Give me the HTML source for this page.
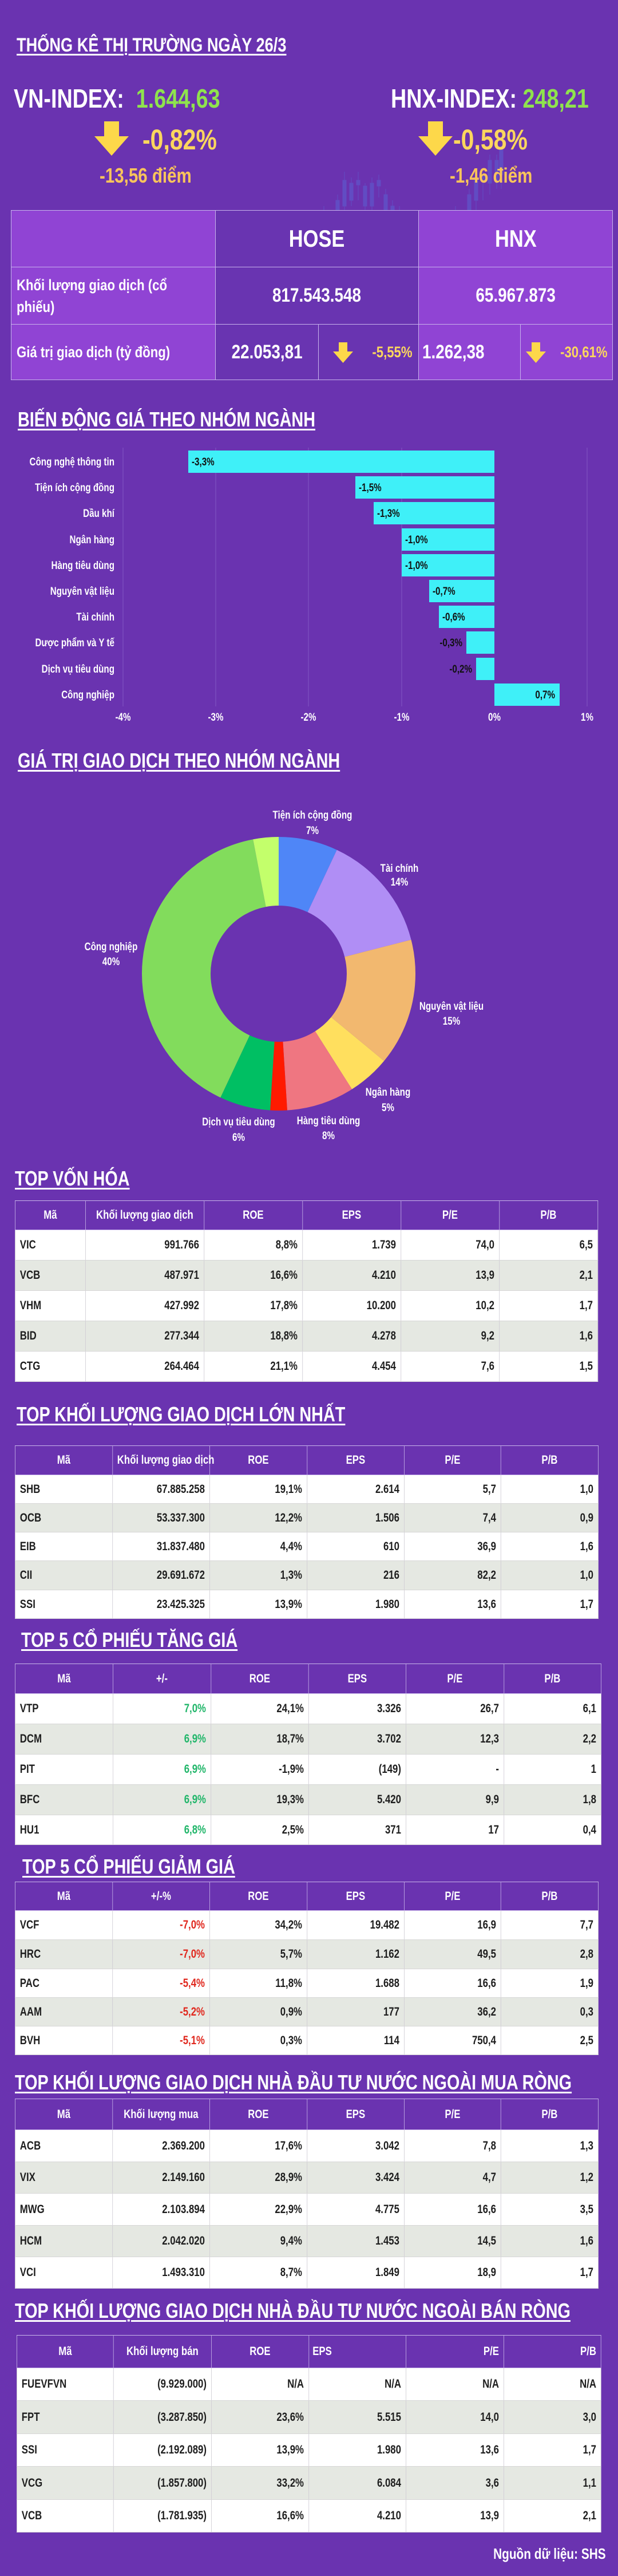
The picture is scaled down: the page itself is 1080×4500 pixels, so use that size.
<!DOCTYPE html>
<html><head><meta charset="utf-8">
<style>
*{margin:0;padding:0;box-sizing:border-box}
body{width:1080px;height:4500px;background:#6a33b0;position:relative;overflow:hidden;font-family:"Liberation Sans",sans-serif;font-weight:bold;color:#fff}
.a{position:absolute;white-space:nowrap;line-height:1}
.s{transform:scaleX(.82);transform-origin:left top}
.sr{transform:scaleX(.8);transform-origin:right top}
.t{position:absolute;white-space:nowrap;line-height:1;font-size:36px;text-decoration:underline;text-decoration-thickness:3px;text-underline-offset:4px;color:#fff;transform:scaleX(.8);transform-origin:left top}
.c{position:absolute;display:flex;align-items:center;justify-content:center;border:1px solid #c7b2ec}
.c span{display:inline-block;transform:scaleX(.82)}
.c.l span{transform-origin:left center}
.c.r span{transform-origin:right center}
table{position:absolute;border-collapse:collapse;table-layout:fixed;font-size:21px;color:#1e1e1e;transform:scaleX(.8);transform-origin:left top}
td,th{border:1px solid #d6d6d6;padding:0 10px;text-align:right;white-space:nowrap}
th{background:#6a33b0;color:#fff;text-align:center;font-weight:bold;border-color:#c9b6ea}
td:first-child{text-align:left}
tr.w td{background:#fff}
tr.g td{background:#e5e8e2}
.gr{color:#21b66a}.rd{color:#e0281e}
</style></head><body>

<svg class="a" style="left:0;top:0" width="1080" height="600">
<g fill="#5a66d6" opacity="0.5" stroke="#5a66d6" stroke-width="1">
<line x1="387" y1="470" x2="387" y2="560"/><rect x="384" y="505" width="6" height="30"/>
<line x1="398" y1="475" x2="398" y2="555"/><rect x="395" y="500" width="6" height="6"/>
<line x1="410" y1="480" x2="410" y2="560"/><rect x="407" y="495" width="6" height="45"/>
<line x1="422" y1="510" x2="422" y2="560"/><rect x="419" y="540" width="6" height="15"/>
<line x1="434" y1="500" x2="434" y2="555"/><rect x="431" y="520" width="6" height="25"/>
<line x1="446" y1="480" x2="446" y2="540"/><rect x="443" y="510" width="6" height="20"/>
<line x1="458" y1="460" x2="458" y2="540"/><rect x="455" y="480" width="6" height="40"/>
<line x1="470" y1="470" x2="470" y2="520"/><rect x="467" y="495" width="6" height="20"/>
<line x1="482" y1="440" x2="482" y2="520"/><rect x="479" y="455" width="6" height="45"/>
<line x1="494" y1="460" x2="494" y2="510"/><rect x="491" y="480" width="6" height="20"/>
<line x1="506" y1="410" x2="506" y2="500"/><rect x="503" y="420" width="6" height="40"/>
<line x1="518" y1="390" x2="518" y2="460"/><rect x="515" y="410" width="6" height="30"/>
<line x1="530" y1="400" x2="530" y2="450"/><rect x="527" y="425" width="6" height="15"/>
<line x1="542" y1="380" x2="542" y2="440"/><rect x="539" y="395" width="6" height="25"/>
<line x1="554" y1="385" x2="554" y2="430"/><rect x="551" y="400" width="6" height="12"/>
<line x1="566" y1="360" x2="566" y2="430"/><rect x="563" y="370" width="6" height="45"/>
<line x1="578" y1="390" x2="578" y2="420"/><rect x="575" y="395" width="6" height="18"/>
<line x1="590" y1="340" x2="590" y2="420"/><rect x="587" y="350" width="6" height="50"/>
<line x1="602" y1="300" x2="602" y2="390"/><rect x="599" y="315" width="6" height="45"/>
<line x1="614" y1="310" x2="614" y2="360"/><rect x="611" y="320" width="6" height="30"/>
<line x1="626" y1="300" x2="626" y2="350"/><rect x="623" y="315" width="6" height="8"/>
<line x1="638" y1="320" x2="638" y2="370"/><rect x="635" y="325" width="6" height="35"/>
<line x1="650" y1="310" x2="650" y2="370"/><rect x="647" y="320" width="6" height="40"/>
<line x1="662" y1="305" x2="662" y2="345"/><rect x="659" y="315" width="6" height="10"/>
<line x1="674" y1="330" x2="674" y2="400"/><rect x="671" y="340" width="6" height="45"/>
<line x1="686" y1="350" x2="686" y2="390"/><rect x="683" y="360" width="6" height="20"/>
<line x1="698" y1="360" x2="698" y2="430"/><rect x="695" y="370" width="6" height="45"/>
<line x1="710" y1="400" x2="710" y2="460"/><rect x="707" y="410" width="6" height="40"/>
<line x1="722" y1="420" x2="722" y2="470"/><rect x="719" y="430" width="6" height="20"/>
<line x1="734" y1="400" x2="734" y2="480"/><rect x="731" y="420" width="6" height="40"/>
<line x1="746" y1="380" x2="746" y2="460"/><rect x="743" y="410" width="6" height="30"/>
<line x1="760" y1="400" x2="760" y2="450"/><rect x="757" y="410" width="6" height="25"/>
<line x1="772" y1="400" x2="772" y2="450"/><rect x="769" y="405" width="6" height="10"/>
<line x1="784" y1="400" x2="784" y2="440"/><rect x="781" y="410" width="6" height="25"/>
<line x1="796" y1="360" x2="796" y2="430"/><rect x="793" y="380" width="6" height="40"/>
<line x1="808" y1="380" x2="808" y2="440"/><rect x="805" y="400" width="6" height="25"/>
<line x1="820" y1="330" x2="820" y2="410"/><rect x="817" y="340" width="6" height="55"/>
<line x1="832" y1="300" x2="832" y2="370"/><rect x="829" y="310" width="6" height="40"/>
<line x1="844" y1="300" x2="844" y2="350"/><rect x="841" y="305" width="6" height="10"/>
<line x1="856" y1="270" x2="856" y2="340"/><rect x="853" y="280" width="6" height="40"/>
<line x1="868" y1="270" x2="868" y2="330"/><rect x="865" y="280" width="6" height="35"/>
<line x1="876" y1="250" x2="876" y2="330"/><rect x="873" y="260" width="6" height="45"/>
</g></svg>

<div class="t" style="left:29px;top:62px;font-size:34px">THỐNG KÊ THỊ TRƯỜNG NGÀY 26/3</div>

<div class="a s" style="left:24px;top:149px;font-size:46px">VN-INDEX:&nbsp; <span style="color:#8fe34d">1.644,63</span></div>
<div class="a s" style="left:683px;top:149px;font-size:46px">HNX-INDEX: <span style="color:#8fe34d">248,21</span></div>

<svg class="a" style="left:165px;top:212px" width="60" height="60"><polygon points="17,0 43,0 43,26 60,26 30,60 0,26 17,26" fill="#fdd84a"/></svg>
<svg class="a" style="left:731px;top:212px" width="60" height="60"><polygon points="17,0 43,0 43,26 60,26 30,60 0,26 17,26" fill="#fdd84a"/></svg>
<div class="a s" style="left:249px;top:219px;font-size:50px;color:#fbd65e">-0,82%</div>
<div class="a s" style="left:792px;top:219px;font-size:50px;color:#fbd65e">-0,58%</div>
<div class="a s" style="left:174px;top:289px;font-size:36px;color:#f9c45b">-13,56 điểm</div>
<div class="a s" style="left:786px;top:289px;font-size:36px;color:#f9c45b">-1,46 điểm</div>

<div class="c" style="left:19px;top:367px;width:358px;height:100px;background:#9044d4"></div>
<div class="c" style="left:376px;top:367px;width:356px;height:100px;background:#6934b1;font-size:42px"><span>HOSE</span></div>
<div class="c" style="left:731px;top:367px;width:340px;height:100px;background:#9044d4;font-size:42px"><span>HNX</span></div>
<div class="c l" style="left:19px;top:466px;width:358px;height:101px;background:#9044d4;justify-content:flex-start;padding-left:9px;font-size:27px;line-height:38px"><span>Khối lượng giao dịch (cổ<br>phiếu)</span></div>
<div class="c" style="left:376px;top:466px;width:356px;height:101px;background:#6934b1;font-size:34px"><span>817.543.548</span></div>
<div class="c" style="left:731px;top:466px;width:340px;height:101px;background:#9044d4;font-size:34px"><span>65.967.873</span></div>
<div class="c l" style="left:19px;top:566px;width:358px;height:98px;background:#9044d4;justify-content:flex-start;padding-left:9px;font-size:27px"><span>Giá trị giao dịch (tỷ đồng)</span></div>
<div class="c" style="left:376px;top:566px;width:181px;height:98px;background:#6934b1;font-size:34px"><span>22.053,81</span></div>
<div class="c r" style="left:556px;top:566px;width:176px;height:98px;background:#6934b1;font-size:27px;color:#fbd65e;justify-content:flex-end;padding-right:10px"><span>-5,55%</span></div>
<div class="c l" style="left:731px;top:566px;width:179px;height:98px;background:#9044d4;font-size:34px;justify-content:flex-start;padding-left:6px"><span>1.262,38</span></div>
<div class="c r" style="left:909px;top:566px;width:162px;height:98px;background:#9044d4;font-size:27px;color:#fbd65e;justify-content:flex-end;padding-right:8px"><span>-30,61%</span></div>
<svg class="a" style="left:582px;top:598px" width="35" height="36"><polygon points="10,0 25,0 25,16 35,16 17.5,36 0,16 10,16" fill="#fdd84a"/></svg>
<svg class="a" style="left:919px;top:598px" width="35" height="36"><polygon points="10,0 25,0 25,16 35,16 17.5,36 0,16 10,16" fill="#fdd84a"/></svg>

<div class="t" style="left:31px;top:715px">BIẾN ĐỘNG GIÁ THEO NHÓM NGÀNH</div>
<svg class="a" style="left:0;top:0" width="1080" height="1300" font-family="Liberation Sans, sans-serif" font-weight="bold" font-size="18">
<g stroke="#8257c4" stroke-width="1">
<line x1="215" y1="782" x2="215" y2="1234"/><line x1="377" y1="782" x2="377" y2="1234"/><line x1="539" y1="782" x2="539" y2="1234"/><line x1="702" y1="782" x2="702" y2="1234"/><line x1="1026" y1="782" x2="1026" y2="1234"/>
</g>
<g fill="#3ff0f8">
<rect x="329" y="787" width="535" height="39"/>
<rect x="621" y="832" width="243" height="39"/>
<rect x="653" y="877" width="211" height="39"/>
<rect x="702" y="923" width="162" height="39"/>
<rect x="702" y="968" width="162" height="39"/>
<rect x="750" y="1013" width="114" height="39"/>
<rect x="767" y="1058" width="97" height="39"/>
<rect x="815" y="1103" width="49" height="39"/>
<rect x="832" y="1149" width="32" height="39"/>
<rect x="864" y="1194" width="114" height="39"/>
</g>
<g fill="#111" transform="scale(.8,1)" font-size="19">
<text x="418.75" y="813">-3,3%</text><text x="783.75" y="858">-1,5%</text><text x="823.75" y="903">-1,3%</text><text x="885" y="949">-1,0%</text><text x="885" y="994">-1,0%</text><text x="945" y="1039">-0,7%</text><text x="966.25" y="1084">-0,6%</text>
<text x="1010" y="1129" text-anchor="end">-0,3%</text><text x="1031.25" y="1175" text-anchor="end">-0,2%</text><text x="1212.5" y="1220" text-anchor="end">0,7%</text>
</g>
<g fill="#fff" text-anchor="end" transform="scale(.8,1)" font-size="19">
<text x="250" y="813">Công nghệ thông tin</text><text x="250" y="858">Tiện ích cộng đồng</text><text x="250" y="903">Dầu khí</text><text x="250" y="949">Ngân hàng</text><text x="250" y="994">Hàng tiêu dùng</text><text x="250" y="1039">Nguyên vật liệu</text><text x="250" y="1084">Tài chính</text><text x="250" y="1129">Dược phẩm và Y tế</text><text x="250" y="1175">Dịch vụ tiêu dùng</text><text x="250" y="1220">Công nghiệp</text>
</g>
<g fill="#fff" text-anchor="middle" transform="scale(.8,1)" font-size="19">
<text x="268.75" y="1259">-4%</text><text x="471.25" y="1259">-3%</text><text x="673.75" y="1259">-2%</text><text x="877.5" y="1259">-1%</text><text x="1080" y="1259">0%</text><text x="1282.5" y="1259">1%</text>
</g>
</svg>

<div class="t" style="left:31px;top:1311px">GIÁ TRỊ GIAO DỊCH THEO NHÓM NGÀNH</div>
<svg class="a" style="left:0;top:1300px" width="1080" height="720" font-family="Liberation Sans, sans-serif" font-weight="bold" font-size="19">
<g transform="translate(487,401) rotate(-90)" fill="none" stroke-width="120">
<circle r="179" pathLength="100" stroke="#4f86f7" stroke-dasharray="7 93" stroke-dashoffset="0"/>
<circle r="179" pathLength="100" stroke="#b08ef5" stroke-dasharray="14 86" stroke-dashoffset="-7"/>
<circle r="179" pathLength="100" stroke="#f2b86f" stroke-dasharray="15 85" stroke-dashoffset="-21"/>
<circle r="179" pathLength="100" stroke="#ffdf5e" stroke-dasharray="5 95" stroke-dashoffset="-36"/>
<circle r="179" pathLength="100" stroke="#ef7681" stroke-dasharray="8 92" stroke-dashoffset="-41"/>
<circle r="179" pathLength="100" stroke="#ff1a00" stroke-dasharray="2 98" stroke-dashoffset="-49"/>
<circle r="179" pathLength="100" stroke="#00bf63" stroke-dasharray="6 94" stroke-dashoffset="-51"/>
<circle r="179" pathLength="100" stroke="#82dc5c" stroke-dasharray="40 60" stroke-dashoffset="-57"/>
<circle r="179" pathLength="100" stroke="#c3ff6b" stroke-dasharray="3 97" stroke-dashoffset="-97"/>
</g>
<g fill="#fff" text-anchor="middle">
<text transform="translate(546,130) scale(.8,1)">Tiện ích cộng đồng</text><text transform="translate(546,157) scale(.8,1)">7%</text>
<text transform="translate(698,223) scale(.8,1)">Tài chính</text><text transform="translate(698,247) scale(.8,1)">14%</text>
<text transform="translate(789,464) scale(.8,1)">Nguyên vật liệu</text><text transform="translate(789,490) scale(.8,1)">15%</text>
<text transform="translate(678,614) scale(.8,1)">Ngân hàng</text><text transform="translate(678,641) scale(.8,1)">5%</text>
<text transform="translate(574,664) scale(.8,1)">Hàng tiêu dùng</text><text transform="translate(574,690) scale(.8,1)">8%</text>
<text transform="translate(417,666) scale(.8,1)">Dịch vụ tiêu dùng</text><text transform="translate(417,693) scale(.8,1)">6%</text>
<text transform="translate(194,360) scale(.8,1)">Công nghiệp</text><text transform="translate(194,386) scale(.8,1)">40%</text>
</g>
</svg>

<div class="t" style="left:26px;top:2041px">TOP VỐN HÓA</div>
<table style="left:26px;top:2097px;width:1272.5px">
<colgroup><col style="width:153.75px"><col style="width:258.75px"><col style="width:215px"><col style="width:215px"><col style="width:215px"><col style="width:215px"></colgroup>
<tr style="height:51px"><th>Mã</th><th>Khối lượng giao dịch</th><th>ROE</th><th>EPS</th><th>P/E</th><th>P/B</th></tr>
<tr class="w" style="height:53px"><td>VIC</td><td>991.766</td><td>8,8%</td><td>1.739</td><td>74,0</td><td>6,5</td></tr>
<tr class="g" style="height:53px"><td>VCB</td><td>487.971</td><td>16,6%</td><td>4.210</td><td>13,9</td><td>2,1</td></tr>
<tr class="w" style="height:53px"><td>VHM</td><td>427.992</td><td>17,8%</td><td>10.200</td><td>10,2</td><td>1,7</td></tr>
<tr class="g" style="height:53px"><td>BID</td><td>277.344</td><td>18,8%</td><td>4.278</td><td>9,2</td><td>1,6</td></tr>
<tr class="w" style="height:53px"><td>CTG</td><td>264.464</td><td>21,1%</td><td>4.454</td><td>7,6</td><td>1,5</td></tr>
</table>

<div class="t" style="left:29px;top:2453px">TOP KHỐI LƯỢNG GIAO DỊCH LỚN NHẤT</div>
<table style="left:26px;top:2525px;width:1273.75px">
<colgroup><col style="width:212.5px"><col style="width:212.5px"><col style="width:212.5px"><col style="width:212.5px"><col style="width:211.25px"><col style="width:212.5px"></colgroup>
<tr style="height:51px"><th>Mã</th><th>Khối lượng giao dịch</th><th>ROE</th><th>EPS</th><th>P/E</th><th>P/B</th></tr>
<tr class="w" style="height:50px"><td>SHB</td><td>67.885.258</td><td>19,1%</td><td>2.614</td><td>5,7</td><td>1,0</td></tr>
<tr class="g" style="height:50px"><td>OCB</td><td>53.337.300</td><td>12,2%</td><td>1.506</td><td>7,4</td><td>0,9</td></tr>
<tr class="w" style="height:50px"><td>EIB</td><td>31.837.480</td><td>4,4%</td><td>610</td><td>36,9</td><td>1,6</td></tr>
<tr class="g" style="height:51px"><td>CII</td><td>29.691.672</td><td>1,3%</td><td>216</td><td>82,2</td><td>1,0</td></tr>
<tr class="w" style="height:50px"><td>SSI</td><td>23.425.325</td><td>13,9%</td><td>1.980</td><td>13,6</td><td>1,7</td></tr>
</table>

<div class="t" style="left:37px;top:2847px">TOP 5 CỔ PHIẾU TĂNG GIÁ</div>
<table style="left:26px;top:2906px;width:1280px">
<colgroup><col style="width:213.75px"><col style="width:213.75px"><col style="width:213.75px"><col style="width:212.5px"><col style="width:213.75px"><col style="width:212.5px"></colgroup>
<tr style="height:52px"><th>Mã</th><th>+/-</th><th>ROE</th><th>EPS</th><th>P/E</th><th>P/B</th></tr>
<tr class="w" style="height:53px"><td>VTP</td><td class="gr">7,0%</td><td>24,1%</td><td>3.326</td><td>26,7</td><td>6,1</td></tr>
<tr class="g" style="height:53px"><td>DCM</td><td class="gr">6,9%</td><td>18,7%</td><td>3.702</td><td>12,3</td><td>2,2</td></tr>
<tr class="w" style="height:53px"><td>PIT</td><td class="gr">6,9%</td><td>-1,9%</td><td>(149)</td><td>-</td><td>1</td></tr>
<tr class="g" style="height:53px"><td>BFC</td><td class="gr">6,9%</td><td>19,3%</td><td>5.420</td><td>9,9</td><td>1,8</td></tr>
<tr class="w" style="height:52px"><td>HU1</td><td class="gr">6,8%</td><td>2,5%</td><td>371</td><td>17</td><td>0,4</td></tr>
</table>

<div class="t" style="left:39px;top:3243px">TOP 5 CỔ PHIẾU GIẢM GIÁ</div>
<table style="left:26px;top:3287px;width:1273.75px">
<colgroup><col style="width:212.5px"><col style="width:212.5px"><col style="width:212.5px"><col style="width:212.5px"><col style="width:211.25px"><col style="width:212.5px"></colgroup>
<tr style="height:50px"><th>Mã</th><th>+/-%</th><th>ROE</th><th>EPS</th><th>P/E</th><th>P/B</th></tr>
<tr class="w" style="height:51px"><td>VCF</td><td class="rd">-7,0%</td><td>34,2%</td><td>19.482</td><td>16,9</td><td>7,7</td></tr>
<tr class="g" style="height:51px"><td>HRC</td><td class="rd">-7,0%</td><td>5,7%</td><td>1.162</td><td>49,5</td><td>2,8</td></tr>
<tr class="w" style="height:50px"><td>PAC</td><td class="rd">-5,4%</td><td>11,8%</td><td>1.688</td><td>16,6</td><td>1,9</td></tr>
<tr class="g" style="height:50px"><td>AAM</td><td class="rd">-5,2%</td><td>0,9%</td><td>177</td><td>36,2</td><td>0,3</td></tr>
<tr class="w" style="height:50px"><td>BVH</td><td class="rd">-5,1%</td><td>0,3%</td><td>114</td><td>750,4</td><td>2,5</td></tr>
</table>

<div class="t" style="left:26px;top:3620px">TOP KHỐI LƯỢNG GIAO DỊCH NHÀ ĐẦU TƯ NƯỚC NGOÀI MUA RÒNG</div>
<table style="left:26px;top:3666px;width:1273.75px">
<colgroup><col style="width:212.5px"><col style="width:212.5px"><col style="width:212.5px"><col style="width:212.5px"><col style="width:211.25px"><col style="width:212.5px"></colgroup>
<tr style="height:54px"><th>Mã</th><th>Khối lượng mua</th><th>ROE</th><th>EPS</th><th>P/E</th><th>P/B</th></tr>
<tr class="w" style="height:56px"><td>ACB</td><td>2.369.200</td><td>17,6%</td><td>3.042</td><td>7,8</td><td>1,3</td></tr>
<tr class="g" style="height:55px"><td>VIX</td><td>2.149.160</td><td>28,9%</td><td>3.424</td><td>4,7</td><td>1,2</td></tr>
<tr class="w" style="height:56px"><td>MWG</td><td>2.103.894</td><td>22,9%</td><td>4.775</td><td>16,6</td><td>3,5</td></tr>
<tr class="g" style="height:55px"><td>HCM</td><td>2.042.020</td><td>9,4%</td><td>1.453</td><td>14,5</td><td>1,6</td></tr>
<tr class="w" style="height:55px"><td>VCI</td><td>1.493.310</td><td>8,7%</td><td>1.849</td><td>18,9</td><td>1,7</td></tr>
</table>

<div class="t" style="left:26px;top:4019px">TOP KHỐI LƯỢNG GIAO DỊCH NHÀ ĐẦU TƯ NƯỚC NGOÀI BÁN RÒNG</div>
<table style="left:29px;top:4079px;width:1276.25px">
<colgroup><col style="width:211.25px"><col style="width:213.75px"><col style="width:212.5px"><col style="width:212.5px"><col style="width:213.75px"><col style="width:212.5px"></colgroup>
<tr style="height:57px"><th>Mã</th><th>Khối lượng bán</th><th>ROE</th><th style="text-align:left;padding-left:8px">EPS</th><th style="text-align:right">P/E</th><th style="text-align:right">P/B</th></tr>
<tr class="w" style="height:57px"><td>FUEVFVN</td><td>(9.929.000)</td><td>N/A</td><td>N/A</td><td>N/A</td><td>N/A</td></tr>
<tr class="g" style="height:58px"><td>FPT</td><td>(3.287.850)</td><td>23,6%</td><td>5.515</td><td>14,0</td><td>3,0</td></tr>
<tr class="w" style="height:57px"><td>SSI</td><td>(2.192.089)</td><td>13,9%</td><td>1.980</td><td>13,6</td><td>1,7</td></tr>
<tr class="g" style="height:58px"><td>VCG</td><td>(1.857.800)</td><td>33,2%</td><td>6.084</td><td>3,6</td><td>1,1</td></tr>
<tr class="w" style="height:57px"><td>VCB</td><td>(1.781.935)</td><td>16,6%</td><td>4.210</td><td>13,9</td><td>2,1</td></tr>
</table>

<div class="a sr" style="right:21px;top:4448px;font-size:26px">Nguồn dữ liệu: SHS</div>
</body></html>
